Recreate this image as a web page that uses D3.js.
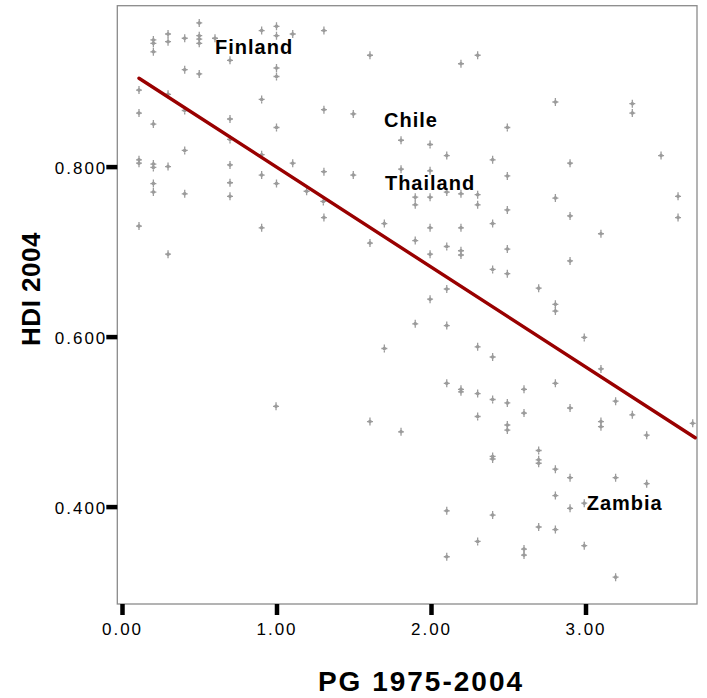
<!DOCTYPE html>
<html>
<head>
<meta charset="utf-8">
<script src="https://cdn.jsdelivr.net/npm/d3@7"></script>
<style>
  body { margin: 0; background: #fff; }
  svg { display: block; font-family: "Liberation Sans", Arial, sans-serif; }
  .tick text { font-size: 17px; letter-spacing: 2px; fill: #000; }
  .tick line { stroke: #000; stroke-width: 4.5px; }
  .axis_title { font-weight: bold; }
  .country_label { font-size: 20px; font-weight: bold; letter-spacing: 1px; }
</style>
</head>
<body>
<div class="scatter_wrapper"></div>
<script>

// PG 1975-2004 (x) and HDI 2004 (y)
const pgX = [
  0.500, 0.298, 0.298, 0.203, 0.203, 0.203, 0.406, 0.500, 0.500, 0.500,
  0.602, 0.699, 0.904, 1.000, 1.000, 1.105, 0.406, 0.500, 1.000, 1.000,
  0.110, 0.298, 0.904, 0.110, 0.203, 0.406, 0.699, 1.000, 0.699, 0.406,
  0.904, 0.110, 0.110, 0.203, 0.203, 0.298, 0.699, 1.105, 0.904, 1.000,
  0.203, 0.203, 0.699, 0.406, 0.699, 0.110, 0.904, 0.298, 0.997, 1.307,
  1.605, 2.194, 2.302, 1.307, 1.497, 1.806, 1.994, 2.102, 1.307, 1.497,
  1.806, 1.994, 2.102, 2.194, 2.302, 1.898, 1.994, 1.195, 2.805, 3.303,
  3.303, 2.494, 2.399, 2.494, 2.900, 3.489, 2.805, 3.599, 1.303, 1.307,
  1.898, 2.302, 1.698, 1.605, 1.898, 1.994, 2.194, 2.102, 2.194, 2.194,
  1.994, 2.102, 1.994, 1.898, 2.102, 1.698, 2.302, 2.102, 2.194, 2.194,
  2.302, 3.599, 2.494, 2.399, 2.900, 3.100, 2.494, 2.900, 2.399, 2.494,
  2.697, 2.805, 2.805, 2.992, 2.399, 3.100, 2.805, 2.602, 2.399, 2.494,
  3.195, 2.900, 2.602, 3.303, 3.694, 3.396, 3.100, 3.100, 2.494, 2.494,
  2.399, 2.399, 2.697, 2.697, 2.697, 2.805, 2.900, 3.195, 3.396, 2.805,
  2.900, 2.992, 2.399, 2.697, 2.805, 2.992, 2.602, 2.602, 3.195, 1.605,
  1.806, 2.302, 2.102, 2.302, 2.102
]
const hdiY = [
  0.969, 0.956, 0.947, 0.949, 0.945, 0.935, 0.951, 0.954, 0.950, 0.945,
  0.951, 0.925, 0.960, 0.965, 0.954, 0.956, 0.914, 0.909, 0.916, 0.906,
  0.890, 0.885, 0.879, 0.863, 0.850, 0.866, 0.856, 0.846, 0.832, 0.819,
  0.814, 0.808, 0.804, 0.803, 0.799, 0.800, 0.802, 0.804, 0.790, 0.780,
  0.780, 0.770, 0.781, 0.768, 0.765, 0.730, 0.728, 0.697, 0.518, 0.960,
  0.931, 0.921, 0.931, 0.867, 0.862, 0.831, 0.826, 0.813, 0.794, 0.790,
  0.797, 0.795, 0.770, 0.768, 0.767, 0.764, 0.764, 0.771, 0.876, 0.874,
  0.863, 0.846, 0.808, 0.789, 0.804, 0.813, 0.763, 0.765, 0.759, 0.740,
  0.755, 0.755, 0.733, 0.710, 0.713, 0.728, 0.728, 0.706, 0.701, 0.696,
  0.697, 0.656, 0.644, 0.615, 0.613, 0.586, 0.588, 0.545, 0.538, 0.535,
  0.533, 0.740, 0.749, 0.733, 0.742, 0.721, 0.703, 0.689, 0.679, 0.674,
  0.657, 0.638, 0.630, 0.599, 0.576, 0.562, 0.545, 0.538, 0.526, 0.522,
  0.524, 0.516, 0.510, 0.508, 0.498, 0.484, 0.500, 0.494, 0.496, 0.490,
  0.459, 0.456, 0.466, 0.455, 0.451, 0.444, 0.434, 0.434, 0.427, 0.413,
  0.398, 0.404, 0.390, 0.376, 0.373, 0.354, 0.350, 0.343, 0.317, 0.500,
  0.488, 0.506, 0.395, 0.359, 0.341
]

// fit line end points
const fitX = [0.11, 3.71]
const fitY = [0.904, 0.481]

// country labels
const labelNames = ["Finland", "Chile", "Thailand", "Zambia"]
const labelX = [0.602, 1.696, 1.702, 3.008]
const labelY = [0.932, 0.846, 0.772, 0.396]

// axis ticks
const xTicks = [0, 1, 2, 3]
const yTicks = [0.4, 0.6, 0.8]

const dataset = pgX.map((d, i) => ({ pg: d, hdi: hdiY[i] }))

let dimensions = {
  width: 707,
  height: 698,
  margin: {
    top: 5.7,
    right: 10,
    bottom: 94,
    left: 117.3,
  },
}
dimensions.boundedWidth = dimensions.width
  - dimensions.margin.left
  - dimensions.margin.right
dimensions.boundedHeight = dimensions.height
  - dimensions.margin.top
  - dimensions.margin.bottom

const wrapper = d3.select(".scatter_wrapper")
  .append("svg")
    .attr("width", dimensions.width)
    .attr("height", dimensions.height)

const bounds = wrapper.append("g")
  .attr("transform", `translate(${dimensions.margin.left},${dimensions.margin.top})`)

const xScale = d3.scaleLinear()
  .domain([-0.0304, 3.7217])
  .range([0, dimensions.boundedWidth])

const yScale = d3.scaleLinear()
  .domain([0.2854, 0.9893])
  .range([dimensions.boundedHeight, 0])

// frame
bounds.append("rect")
  .attr("width", dimensions.boundedWidth)
  .attr("height", dimensions.boundedHeight)
  .attr("fill", "none")
  .attr("stroke", "#8a8a8a")
  .attr("stroke-width", 1.3)

const xAxis = d3.axisBottom(xScale)
  .tickValues(xTicks)
  .tickFormat(d3.format(".2f"))
  .tickSize(11)
  .tickPadding(8)

bounds.append("g")
  .attr("class", "xAxis")
  .attr("transform", `translate(0,${dimensions.boundedHeight})`)
  .call(xAxis)
  .call(g => g.select(".domain").remove())

const yAxis = d3.axisLeft(yScale)
  .tickValues(yTicks)
  .tickFormat(d3.format(".3f"))
  .tickSize(11)
  .tickPadding(-1)

bounds.append("g")
  .attr("class", "yAxis")
  .call(yAxis)
  .call(g => g.select(".domain").remove())
  .selectAll("text").attr("dy", "0.42em")

// points
const marker = "M0,-4V4M-3,0H3M0,-1.6L1.6,0L0,1.6L-1.6,0Z"
bounds.selectAll(".point")
  .data(dataset)
  .enter()
  .append("path")
    .attr("class", "point")
    .attr("d", marker)
    .attr("transform", d => `translate(${xScale(d.pg)},${yScale(d.hdi)})`)
    .attr("stroke", "#9b9b9b")
    .attr("stroke-width", 1.3)
    .attr("fill", "#9b9b9b")

// fit line
const line = d3.line()
  .x(d => xScale(d[0]))
  .y(d => yScale(d[1]))

bounds.append("path")
  .datum(fitX.map((d, i) => [d, fitY[i]]))
  .attr("d", line)
  .attr("fill", "none")
  .attr("stroke", "#990000")
  .attr("stroke-width", 3.4)
  .attr("stroke-linecap", "round")

// labels
bounds.selectAll(".country_label")
  .data(labelNames)
  .enter()
  .append("text")
    .attr("class", "country_label")
    .attr("x", (d, i) => xScale(labelX[i]))
    .attr("y", (d, i) => yScale(labelY[i]))
    .text(d => d)

// axis titles
wrapper.append("text")
  .attr("class", "axis_title")
  .attr("x", 421)
  .attr("y", 691)
  .attr("text-anchor", "middle")
  .style("font-size", "28px")
  .style("letter-spacing", "2px")
  .text("PG 1975-2004")

wrapper.append("text")
  .attr("class", "axis_title")
  .attr("transform", "translate(40,289) rotate(-90)")
  .attr("text-anchor", "middle")
  .style("font-size", "26px")
  .style("letter-spacing", "0.5px")
  .text("HDI 2004")

</script>
</body>
</html>
